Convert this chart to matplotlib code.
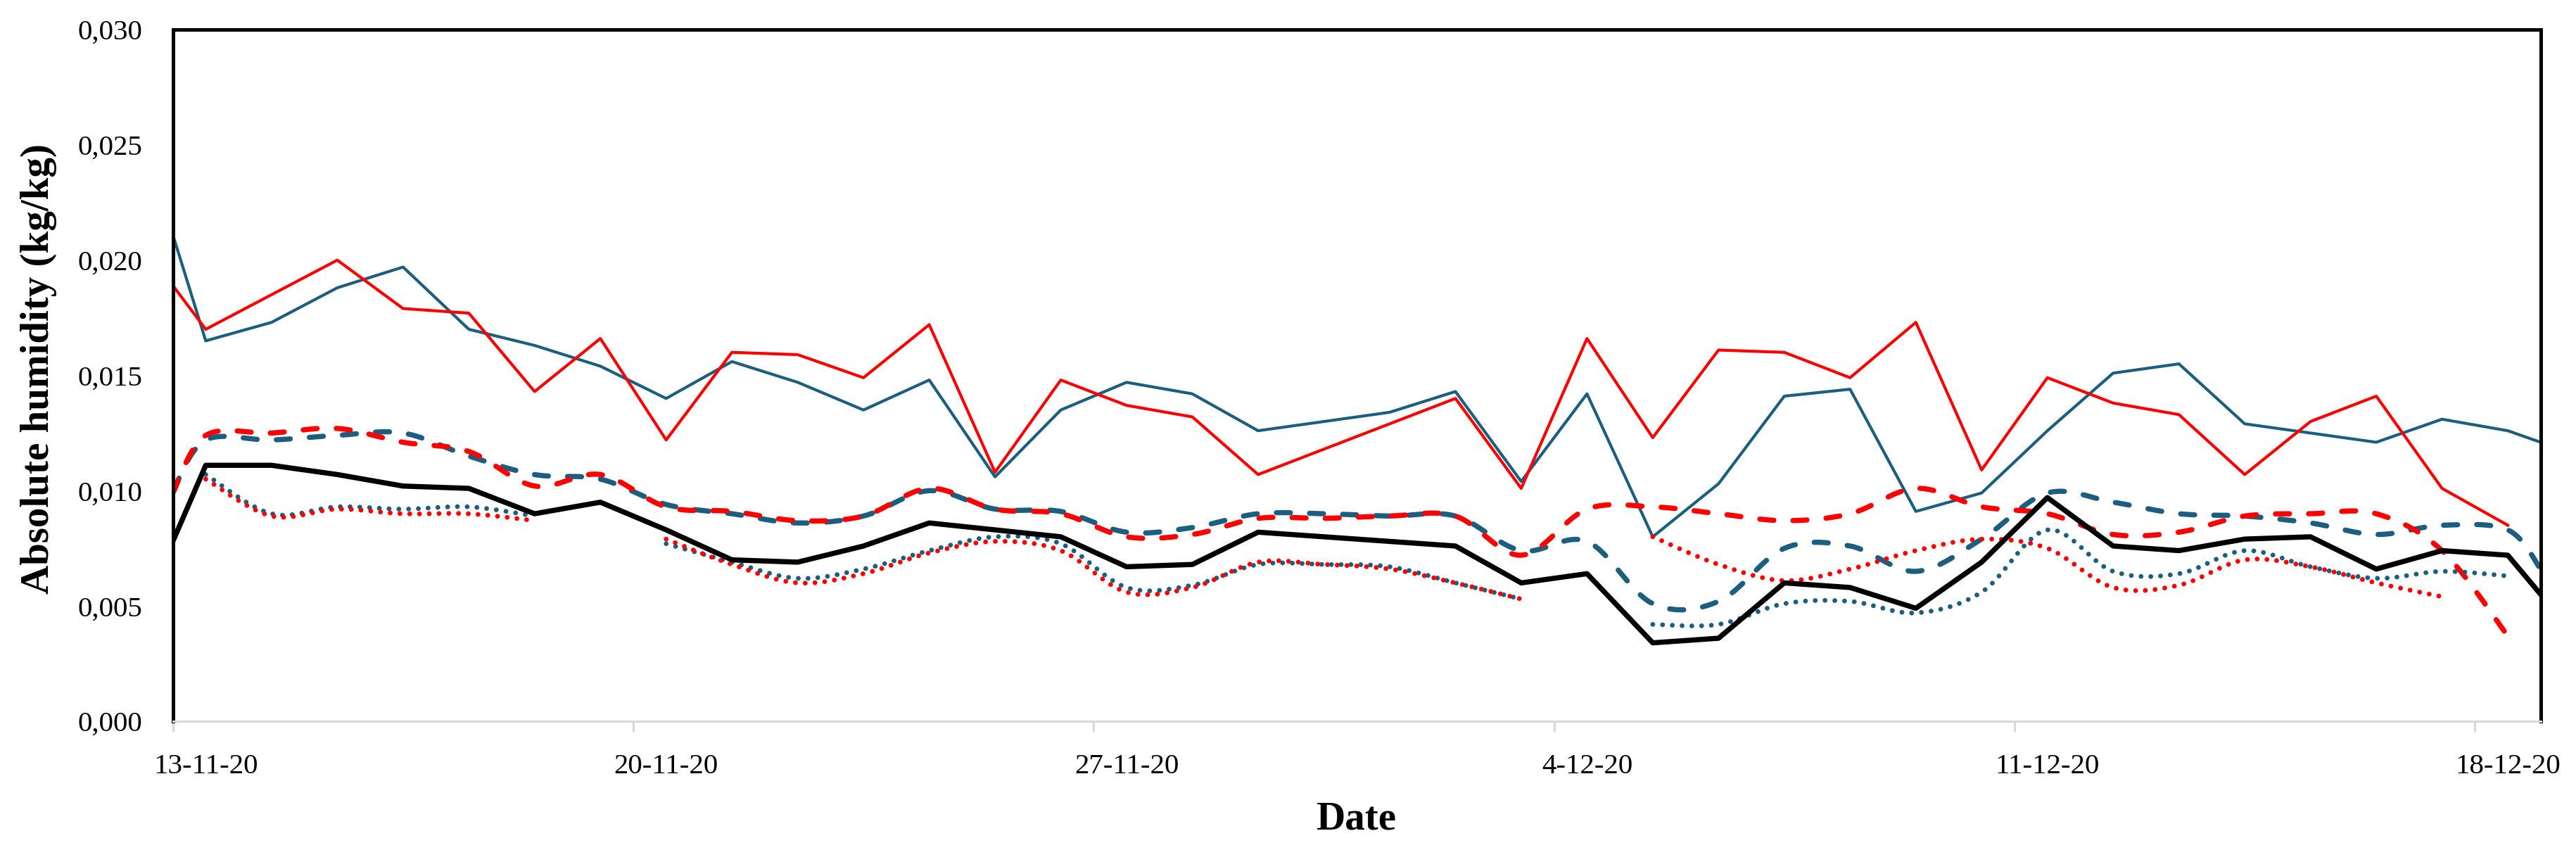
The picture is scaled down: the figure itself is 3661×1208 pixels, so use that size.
import numpy as np
import pandas as pd
import matplotlib
matplotlib.use("Agg")
import matplotlib.pyplot as plt
import matplotlib.dates as mdates
from matplotlib.ticker import FuncFormatter

plt.rcParams['font.family'] = ['Liberation Serif', 'DejaVu Serif']

# sample times: start of 13-11, daily noon readings, end at 19-12
start = pd.Timestamp("2020-11-13")
times = ([start] + list(pd.date_range("2020-11-13 12:00", "2020-12-18 12:00", freq="D"))
         + [pd.Timestamp("2020-12-19")])
nan = np.nan

red_solid = [0.0189, 0.0170, 0.0185, 0.0200, 0.0179, 0.0177, 0.0143, 0.0166, 0.0122, 0.0160,
             0.0159, 0.0149, 0.0172, 0.0108, 0.0148, 0.0137, 0.0132, 0.0107, 0.0118, 0.0129,
             0.0140, 0.0101, 0.0166, 0.0123, 0.0161, 0.0160, 0.0149, 0.0173, 0.0109, 0.0149,
             0.0138, 0.0133, 0.0107, 0.0130, 0.0141, 0.0101, 0.0085, nan]
blue_solid = [0.0211, 0.0165, 0.0173, 0.0188, 0.0197, 0.0170, 0.0163, 0.0154, 0.0140, 0.0156,
              0.0147, 0.0135, 0.0148, 0.0106, 0.0135, 0.0147, 0.0142, 0.0126, 0.0130, 0.0134,
              0.0143, 0.0104, 0.0142, 0.0080, 0.0103, 0.0141, 0.0144, 0.0091, 0.0099, 0.0126,
              0.0151, 0.0155, 0.0129, 0.0125, 0.0121, 0.0131, 0.0126, 0.0121]
red_dash = [0.0099, 0.0124, 0.0125, 0.0127, 0.0121, 0.0117, 0.0102, 0.0107, 0.0093, 0.0091,
            0.0087, 0.0089, 0.0101, 0.0092, 0.0090, 0.0080, 0.0081, 0.0088, 0.0088, 0.0089,
            0.0089, 0.0072, 0.0092, 0.0093, 0.0090, 0.0087, 0.0090, 0.0101, 0.0093, 0.0090,
            0.0081, 0.0082, 0.0089, 0.0090, 0.0090, 0.0074, 0.0037, nan]
blue_dash = [0.0100, 0.0122, 0.0122, 0.0124, 0.0125, 0.0115, 0.0107, 0.0105, 0.0094, 0.0090,
             0.0086, 0.0089, 0.0100, 0.0092, 0.0091, 0.0082, 0.0084, 0.0090, 0.0090, 0.0089,
             0.0089, 0.0074, 0.0078, 0.0051, 0.0052, 0.0075, 0.0076, 0.0065, 0.0079, 0.0099,
             0.0095, 0.0090, 0.0089, 0.0086, 0.0081, 0.0085, 0.0083, 0.0066]
black = [0.0078, 0.0111, 0.0111, 0.0107, 0.0102, 0.0101, 0.0090, 0.0095, 0.0083, 0.0070,
         0.0069, 0.0076, 0.0086, 0.0083, 0.0080, 0.0067, 0.0068, 0.0082, 0.0080, 0.0078,
         0.0076, 0.0060, 0.0064, 0.0034, 0.0036, 0.0060, 0.0058, 0.0049, 0.0069, 0.0097,
         0.0076, 0.0074, 0.0079, 0.0080, 0.0066, 0.0074, 0.0072, 0.0055]
red_dot = [nan, 0.0105, 0.0089, 0.0092, 0.0090, 0.0090, 0.0087, nan, 0.0079, 0.0068,
           0.0060, 0.0064, 0.0073, 0.0078, 0.0074, 0.0056, 0.0058, 0.0069, 0.0068, 0.0066,
           0.0060, 0.0053, nan, 0.0080, 0.0068, 0.0061, 0.0066, 0.0074, 0.0079, 0.0075,
           0.0058, 0.0059, 0.0070, 0.0067, 0.0060, 0.0054, nan, nan]
blue_dot = [nan, 0.0107, 0.0090, 0.0093, 0.0092, 0.0093, 0.0089, nan, 0.0077, 0.0069,
            0.0062, 0.0066, 0.0074, 0.0080, 0.0077, 0.0058, 0.0059, 0.0068, 0.0068, 0.0067,
            0.0060, 0.0053, nan, 0.0042, 0.0042, 0.0051, 0.0052, 0.0047, 0.0056, 0.0083,
            0.0065, 0.0064, 0.0074, 0.0067, 0.0062, 0.0065, 0.0063, nan]

RED = '#ff0000'
BLUE = '#1b5e80'

xnum = mdates.date2num(times)


def smooth_runs(x, y, n=16):
    # catmull-rom through each unbroken run, like excel's smoothed line
    y = np.asarray(y, dtype=float)
    ok = np.isfinite(y)
    runs = []
    i = 0
    while i < len(y):
        if ok[i]:
            j = i
            while j < len(y) and ok[j]:
                j += 1
            runs.append((i, j))
            i = j
        else:
            i += 1
    xs, ys = [], []
    for a, b in runs:
        P = np.column_stack([x[a:b], y[a:b]])
        P = np.vstack([P[0], P, P[-1]])
        t = np.linspace(0, 1, n, endpoint=False)[:, None]
        pts = []
        for k in range(1, len(P) - 2):
            p0, p1, p2, p3 = P[k - 1], P[k], P[k + 1], P[k + 2]
            pts.append(0.5 * (2 * p1 + (-p0 + p2) * t + (2 * p0 - 5 * p1 + 4 * p2 - p3) * t ** 2
                              + (-p0 + 3 * p1 - 3 * p2 + p3) * t ** 3))
        pts.append(P[-2][None])
        pts = np.vstack(pts)
        xs += list(pts[:, 0]) + [nan]
        ys += list(pts[:, 1]) + [nan]
    return np.array(xs), np.array(ys)


fig = plt.figure(figsize=(36.61, 12.08), dpi=100)
ax = fig.add_axes([0.0671, 0.1515, 0.9192, 0.8137])

ax.plot(xnum, blue_solid, color=BLUE, lw=3.0)
ax.plot(xnum, red_solid, color=RED, lw=3.0)

dash_pat = (2.7, 3.7)
sx, sy = smooth_runs(xnum, blue_dash)
ax.plot(sx, sy, color=BLUE, lw=5.3, dashes=dash_pat, dash_capstyle='round')
sx, sy = smooth_runs(xnum, red_dash)
ax.plot(sx, sy, color=RED, lw=5.3, dashes=dash_pat, dash_capstyle='round')

dot_pat = (0.01, 2.03)
sx, sy = smooth_runs(xnum, blue_dot)
ax.plot(sx, sy, color=BLUE, lw=4.9, dashes=dot_pat, dash_capstyle='round')
sx, sy = smooth_runs(xnum, red_dot)
ax.plot(sx, sy, color=RED, lw=4.9, dashes=dot_pat, dash_capstyle='round')

ax.plot(xnum, black, color='black', lw=5.3)

ax.set_xlim(mdates.date2num(pd.Timestamp("2020-11-13")), mdates.date2num(pd.Timestamp("2020-12-19")))
ax.set_ylim(0, 0.030)
ax.set_yticks(np.arange(0, 0.0301, 0.005))
ax.yaxis.set_major_formatter(FuncFormatter(lambda v, p: f"{v:.3f}".replace('.', ',')))
ax.tick_params(axis='y', length=0, pad=31, labelsize=29.5)

# gray tick marks every week, labels centred half a day later
week_ticks = pd.date_range("2020-11-13", "2020-12-18", freq="7D")
ax.set_xticks(mdates.date2num(week_ticks))
ax.set_xticklabels([])
ax.tick_params(axis='x', which='major', length=11, width=2.2, color='#d9d9d9', direction='out')
label_pos = mdates.date2num(week_ticks + pd.Timedelta(hours=12))
ax.set_xticks(label_pos, minor=True)
ax.set_xticklabels([d.strftime("%-d-%m-%y") for d in week_ticks], minor=True)
ax.tick_params(axis='x', which='minor', length=0, pad=33, labelsize=29.5)

for s in ['left', 'top', 'right']:
    ax.spines[s].set_color('black')
    ax.spines[s].set_linewidth(3.6)
ax.spines['bottom'].set_color('#d9d9d9')
ax.spines['bottom'].set_linewidth(2.2)

ax.set_xlabel("Date", fontsize=41, fontweight='bold')
ax.xaxis.set_label_coords(0.5, -0.115)
ax.set_ylabel("Absolute humidity (kg/kg)", fontsize=41, fontweight='bold', va='center')
ax.yaxis.set_label_coords(-0.0567, 0.51)

fig.savefig("out.png", dpi=100)
